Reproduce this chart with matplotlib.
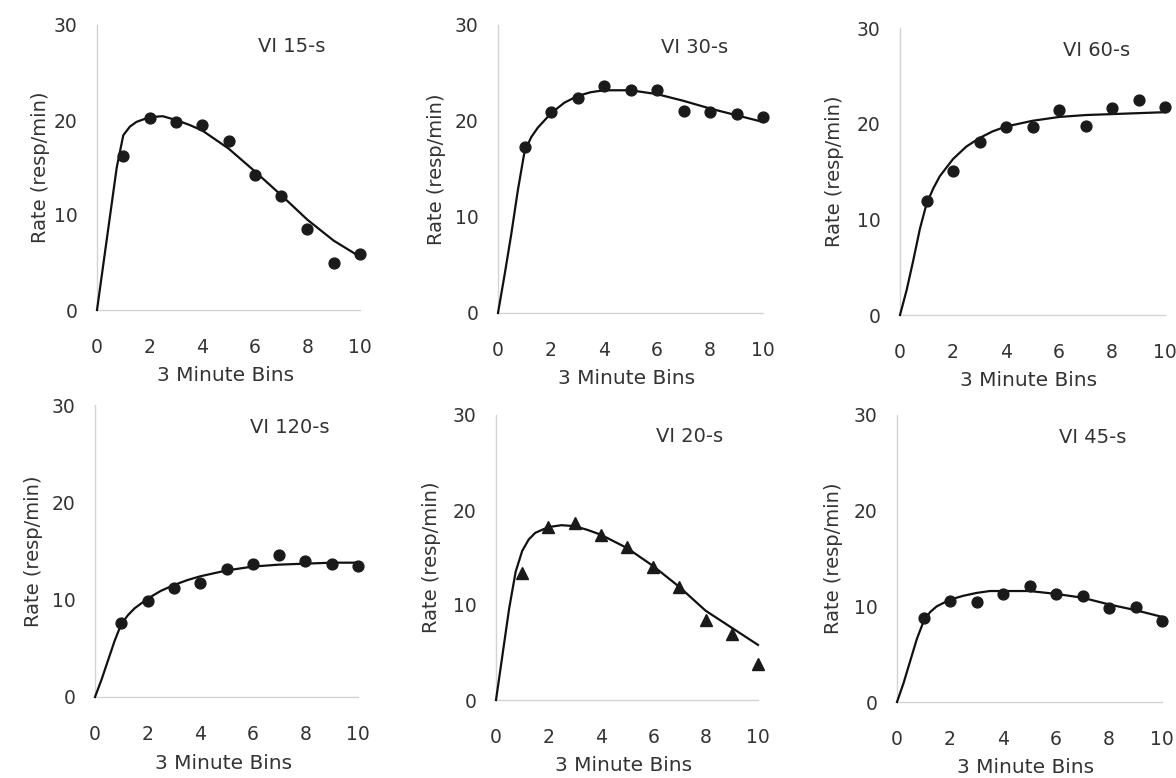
import matplotlib
matplotlib.use("Agg")
import matplotlib.pyplot as plt

# ---- data ----
bins = [1, 2, 3, 4, 5, 6, 7, 8, 9, 10]
curve_x = [0, 0.25, 0.5, 0.75, 1, 1.25, 1.5, 2, 2.5, 3, 3.5, 4, 5, 6, 7, 8, 9, 10]

titles = ["VI 15-s", "VI 30-s", "VI 60-s", "VI 120-s", "VI 20-s", "VI 45-s"]
markers = ["o", "o", "o", "o", "^", "o"]

vi15_pts = [16.2, 20.2, 19.8, 19.5, 17.8, 14.2, 12.0, 8.5, 5.0, 5.9]
vi30_pts = [17.3, 20.9, 22.4, 23.6, 23.2, 23.2, 21.0, 20.9, 20.7, 20.4]
vi60_pts = [11.9, 15.1, 18.1, 19.6, 19.7, 21.4, 19.8, 21.6, 22.5, 21.7]
vi120_pts = [7.6, 9.9, 11.2, 11.7, 13.2, 13.7, 14.6, 14.0, 13.7, 13.5]
vi20_pts = [13.4, 18.2, 18.6, 17.4, 16.1, 14.0, 11.9, 8.4, 6.9, 3.8]
vi45_pts = [8.8, 10.6, 10.5, 11.3, 12.1, 11.3, 11.1, 9.8, 9.9, 8.5]

vi15_fit = [0, 5, 10, 15, 18.4, 19.3, 19.8, 20.3, 20.4, 20.0, 19.5, 18.9, 17.0, 14.6, 12.1, 9.5, 7.3, 5.6]
vi30_fit = [0, 4, 8.2, 12.8, 16.8, 18.3, 19.3, 20.8, 21.9, 22.6, 23.0, 23.2, 23.2, 22.8, 22.1, 21.3, 20.6, 19.9]
vi60_fit = [0, 2.6, 5.7, 9.0, 11.6, 13.2, 14.5, 16.3, 17.6, 18.5, 19.2, 19.7, 20.3, 20.7, 20.9, 21.0, 21.1, 21.2]
vi120_fit = [0, 1.8, 3.8, 5.8, 7.5, 8.4, 9.1, 10.1, 10.9, 11.5, 12.0, 12.4, 13.0, 13.4, 13.6, 13.7, 13.8, 13.8]
vi20_fit = [0, 4.8, 9.6, 13.5, 15.7, 16.9, 17.6, 18.2, 18.4, 18.3, 17.9, 17.4, 16.0, 14.1, 11.9, 9.4, 7.6, 5.8]
vi45_fit = [0, 2.0, 4.3, 6.6, 8.4, 9.4, 10.0, 10.7, 11.1, 11.4, 11.6, 11.6, 11.6, 11.3, 10.9, 10.2, 9.6, 8.9]

points = [vi15_pts, vi30_pts, vi60_pts, vi120_pts, vi20_pts, vi45_pts]
fits = [vi15_fit, vi30_fit, vi60_fit, vi120_fit, vi20_fit, vi45_fit]

xticks = [0, 2, 4, 6, 8, 10]
yticks = [0, 10, 20, 30]

W, H = 1176, 778
fig = plt.figure(figsize=(W / 100, H / 100), dpi=100)

# axes boxes in pixels: (left, right, y0 pixel, y30 pixel, ylabel right edge pixel)
boxes = [
    (97, 360, 310, 25, 50),
    (498, 763, 313, 25, 446),
    (900, 1165, 315, 28, 844),
    (95, 358, 697, 405, 43),
    (496, 758, 700, 415, 441),
    (897, 1162, 702, 415, 843),
]

txt = "#333333"
for i, (l, r, yb, yt, yl) in enumerate(boxes):
    ax = fig.add_axes([l / W, 1 - yb / H, (r - l) / W, (yb - yt) / H])
    ax.plot(curve_x, fits[i], color="#111111", lw=1.6, zorder=3, clip_on=False)
    ax.plot(bins, points[i], linestyle="none", marker=markers[i],
            markersize=7.8 if markers[i] == "o" else 8.5,
            color="#1a1a1a", zorder=4, clip_on=False)
    ax.set_xlim(0, 10)
    ax.set_ylim(0, 30)
    ax.set_xticks(xticks)
    ax.set_yticks(yticks)
    ax.tick_params(axis="both", length=0, labelsize=13.5, colors=txt)
    ax.tick_params(axis="x", pad=20)
    ax.tick_params(axis="y", pad=14)
    for s in ["top", "right"]:
        ax.spines[s].set_visible(False)
    for s in ["left", "bottom"]:
        ax.spines[s].set_color("#d4d4d4")
        ax.spines[s].set_linewidth(1.0)
    ax.set_xlabel("3 Minute Bins", fontsize=14.5, color=txt)
    ax.xaxis.set_label_coords(0.487, -0.195)
    ax.set_ylabel("Rate (resp/min)", fontsize=14, color=txt)
    ax.yaxis.set_label_coords((yl - l) / (r - l), 0.5)
    ax.text(7.4, 27.7, titles[i], ha="center", va="center", fontsize=14, color=txt)

fig.savefig("out.png", dpi=100, facecolor="white")
